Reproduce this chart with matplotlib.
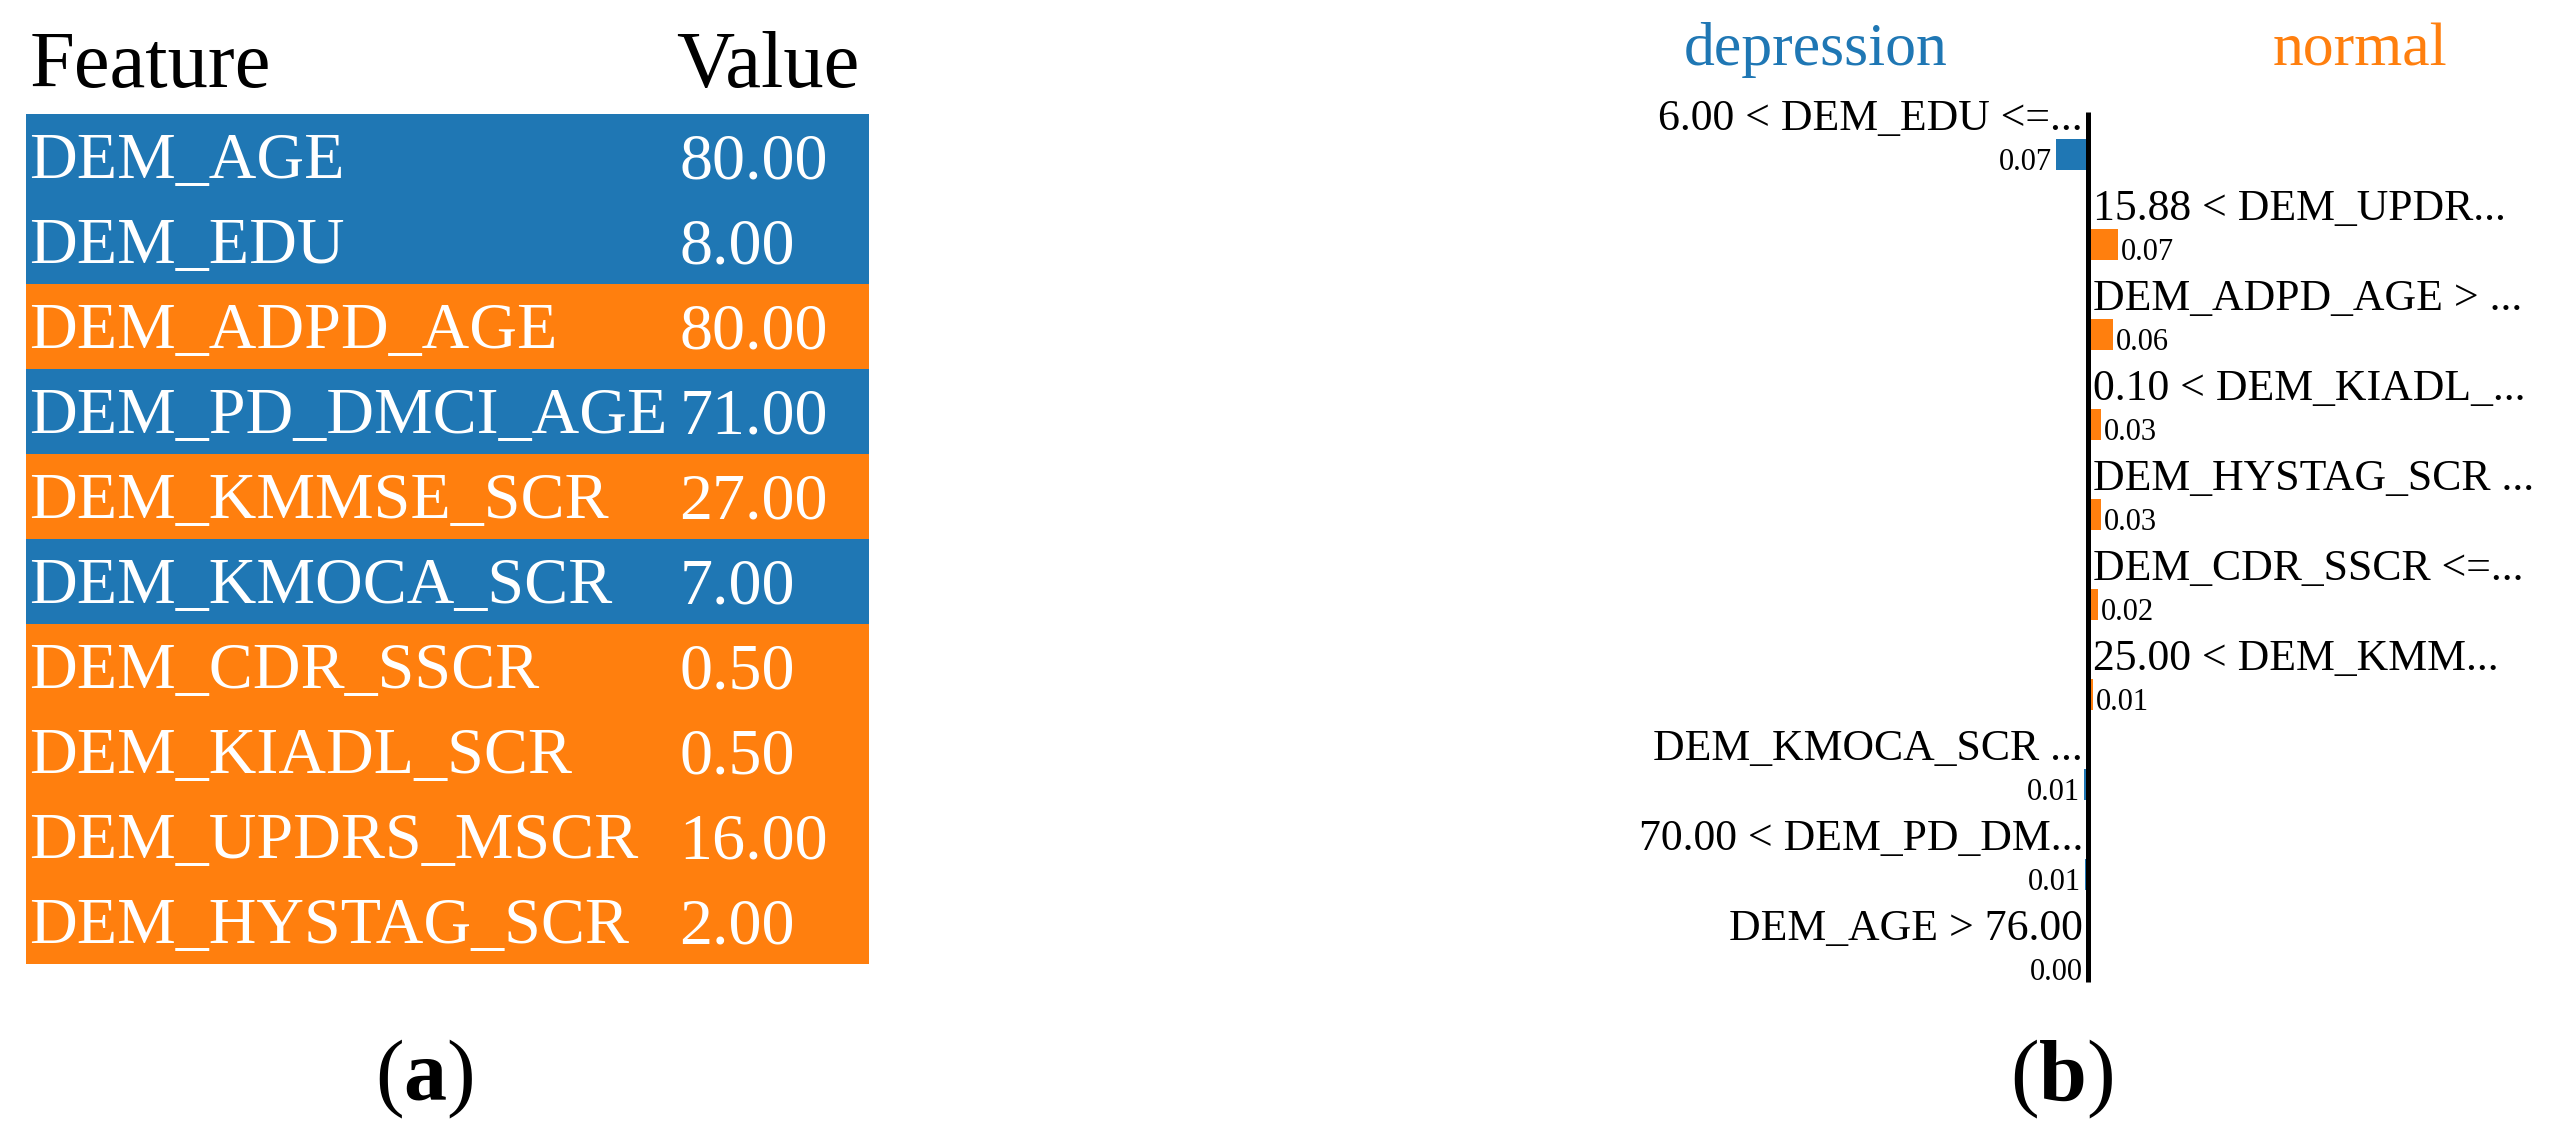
import matplotlib.pyplot as plt

plt.rcParams['font.family'] = 'Liberation Serif'
plt.rcParams['mathtext.fontset'] = 'custom'
plt.rcParams['mathtext.rm'] = 'Liberation Serif'
plt.rcParams['mathtext.bf'] = 'Liberation Serif:bold'

# (a) feature table
features = ['DEM_AGE', 'DEM_EDU', 'DEM_ADPD_AGE', 'DEM_PD_DMCI_AGE', 'DEM_KMMSE_SCR',
            'DEM_KMOCA_SCR', 'DEM_CDR_SSCR', 'DEM_KIADL_SCR', 'DEM_UPDRS_MSCR', 'DEM_HYSTAG_SCR']
feature_values = [80.00, 8.00, 80.00, 71.00, 27.00, 7.00, 0.50, 0.50, 16.00, 2.00]
feature_class = ['depression', 'depression', 'normal', 'depression', 'normal',
                 'depression', 'normal', 'normal', 'normal', 'normal']

# (b) explanation weights (negative -> depression, positive -> normal)
rules = ['6.00 < DEM_EDU <=...', '15.88 < DEM_UPDR...', 'DEM_ADPD_AGE > ...',
         '0.10 < DEM_KIADL_...', 'DEM_HYSTAG_SCR ...', 'DEM_CDR_SSCR <=...',
         '25.00 < DEM_KMM...', 'DEM_KMOCA_SCR ...', '70.00 < DEM_PD_DM...', 'DEM_AGE > 76.00']
weights = [-0.074, 0.069, 0.058, 0.030, 0.029, 0.023, 0.012, -0.009, -0.007, -0.003]
class_names = ['depression', 'normal']

colors = {'depression': '#1f77b4', 'normal': '#ff7f0e'}

W, H = 2556, 1141
fig = plt.figure(figsize=(W / 100, H / 100), dpi=100)


def px_axes(left, top, right, bottom):
    return fig.add_axes([left / W, 1 - bottom / H, (right - left) / W, (bottom - top) / H])


# ---- (a) table ----
n = len(features)
ax = px_axes(26, 114, 869, 964)
ax.set_xlim(0, 1)
ax.set_ylim(n, 0)
ax.axis('off')
ax.barh(range(n), 1, height=1, left=0, align='edge', linewidth=0,
        color=[colors[c] for c in feature_class])
for i in range(n):
    ax.text(0.004, i + 0.753, features[i], color='white', fontsize=47.5, va='baseline')
    ax.text(0.775, i + 0.753, f'{feature_values[i]:.2f}', color='white', fontsize=47.5, va='baseline')
ax.text(0.004, -0.318, 'Feature', fontsize=58, va='baseline', clip_on=False)
ax.text(0.771, -0.318, 'Value', fontsize=58, va='baseline', clip_on=False)

fig.text(424 / W, 1 - 1100 / H, r'($\mathbf{a}$)', ha='center', va='baseline', fontsize=62)

# ---- (b) explanation bars ----
px_per_unit = 432
zero_px = 2088
left_px, right_px = 1560, 2556
bx = px_axes(left_px, 112, right_px, 1012)
bx.set_xlim((left_px - zero_px) / px_per_unit, (right_px - zero_px) / px_per_unit)
bx.set_ylim(len(rules), 0)
bx.axis('off')

bar_off, bar_h = 0.3, 0.344
gap = 5 / px_per_unit
for i, (rule, w) in enumerate(zip(rules, weights)):
    cls = class_names[0] if w < 0 else class_names[1]
    bx.barh(i + bar_off, w, height=bar_h, align='edge', color=colors[cls], linewidth=0)
    if w < 0:
        bx.text(-gap, i + 0.2, rule, ha='right', va='baseline', fontsize=31.5)
        bx.text(w - 4 / px_per_unit, i + bar_off + bar_h, f'{abs(w):.2f}',
                ha='right', va='baseline', fontsize=22)
    else:
        bx.text(gap, i + 0.2, rule, ha='left', va='baseline', fontsize=31.5)
        bx.text(w + 3 / px_per_unit, i + bar_off + bar_h, f'{abs(w):.2f}',
                ha='left', va='baseline', fontsize=22)

bx.vlines(0, 0, len(rules) - 1 + bar_off + bar_h + 0.02, color='black', linewidth=3.6)

head_x = 272 / px_per_unit
bx.text(-head_x, -0.52, class_names[0], color=colors['depression'], fontsize=44.5,
        ha='center', va='baseline', clip_on=False)
bx.text(head_x, -0.52, class_names[1], color=colors['normal'], fontsize=44.5,
        ha='center', va='baseline', clip_on=False)

fig.text(2062 / W, 1 - 1100 / H, r'($\mathbf{b}$)', ha='center', va='baseline', fontsize=62)

fig.savefig('out.png', dpi=100)
